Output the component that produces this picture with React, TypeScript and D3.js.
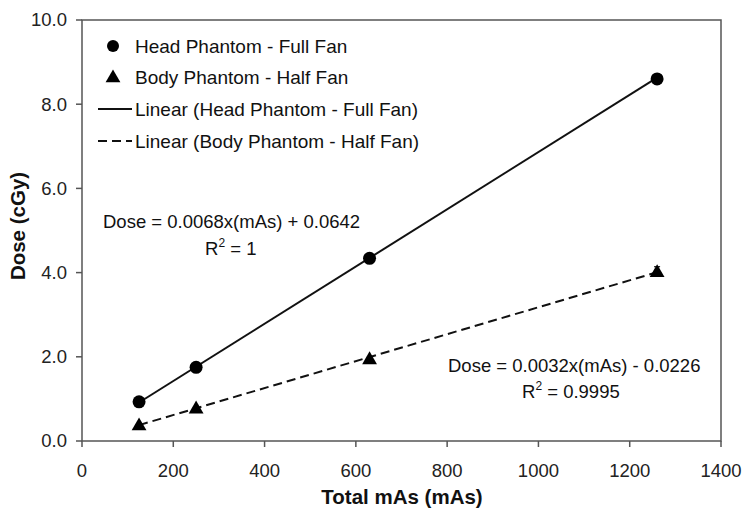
import React from 'react';
import * as d3 from 'd3';

// data
const mAs = [125, 250, 630, 1260];
const headDose = [0.93, 1.75, 4.34, 8.6];
const bodyDose = [0.38, 0.78, 1.95, 4.02];
const bodyErr = [0, 0, 0, 0.12];

// trendline coefficients [slope, intercept] as printed on the chart
const headFit = [0.0068, 0.0642];
const bodyFit = [0.0032, -0.0226];

const xTicks = [0, 200, 400, 600, 800, 1000, 1200, 1400];
const yTicks = [0, 2, 4, 6, 8, 10];

const legendItems = [
  'Head Phantom - Full Fan',
  'Body Phantom - Half Fan',
  'Linear (Head Phantom - Full Fan)',
  'Linear (Body Phantom - Half Fan)'
];

const W = 742, H = 510;
const M = { t: 20, r: 21, b: 69, l: 82 };
const FONT = 'Arial, "Liberation Sans", Helvetica, sans-serif';
const AXIS = '#555';

export default function App() {
  const x = d3.scaleLinear().domain([0, 1400]).range([M.l, W - M.r]);
  const y = d3.scaleLinear().domain([0, 10]).range([H - M.b, M.t]);

  const fitLine = (fit: number[]) => {
    const ext = d3.extent(mAs) as [number, number];
    return d3.line<number>()
      .x(d => x(d))
      .y(d => y(fit[0] * d + fit[1]))(ext) as string;
  };

  const tri = d3.symbol().type(d3.symbolTriangle).size(95)() as string;
  const legendY = [46, 77, 109, 141];

  return (
    <svg width={W} height={H} style={{ position: 'absolute', left: 0, top: 0, background: '#fff' }}
      fontFamily={FONT}>
      {/* frame */}
      <rect x={M.l} y={M.t} width={W - M.r - M.l} height={H - M.b - M.t}
        fill="none" stroke={AXIS} strokeWidth={1.5} />

      {/* y axis ticks */}
      {yTicks.map(t => (
        <g key={'y' + t}>
          <line x1={M.l - 6} x2={M.l} y1={y(t)} y2={y(t)} stroke={AXIS} strokeWidth={1.5} />
          <text x={M.l - 15} y={y(t)} dy="0.35em" textAnchor="end" fontSize={18.5} fill="#222">
            {t.toFixed(1)}
          </text>
        </g>
      ))}

      {/* x axis ticks */}
      {xTicks.map(t => (
        <g key={'x' + t}>
          <line x1={x(t)} x2={x(t)} y1={H - M.b} y2={H - M.b + 6} stroke={AXIS} strokeWidth={1.5} />
          <text x={x(t)} y={477} textAnchor="middle" fontSize={18.5} fill="#222">{t}</text>
        </g>
      ))}

      {/* axis titles */}
      <text x={402} y={504} textAnchor="middle" fontSize={20.5} fontWeight="bold" fill="#111">
        Total mAs (mAs)
      </text>
      <text transform={`translate(25,${226}) rotate(-90)`} textAnchor="middle" fontSize={20.5}
        fontWeight="bold" fill="#111">
        Dose (cGy)
      </text>

      {/* trendlines */}
      <path d={fitLine(headFit)} fill="none" stroke="#111" strokeWidth={2} />
      <path d={fitLine(bodyFit)} fill="none" stroke="#111" strokeWidth={2} strokeDasharray="9,5" />

      {/* body error bars */}
      {mAs.map((v, i) => bodyErr[i] > 0 && (
        <g key={'e' + i} stroke="#111" strokeWidth={1.2}>
          <line x1={x(v)} x2={x(v)} y1={y(bodyDose[i])} y2={y(bodyDose[i] + bodyErr[i])} />
          <line x1={x(v) - 3} x2={x(v) + 3} y1={y(bodyDose[i] + bodyErr[i])} y2={y(bodyDose[i] + bodyErr[i])} />
        </g>
      ))}

      {/* markers */}
      {mAs.map((v, i) => (
        <circle key={'h' + i} cx={x(v)} cy={y(headDose[i])} r={6.5} fill="#000" />
      ))}
      {mAs.map((v, i) => (
        <path key={'b' + i} d={tri} transform={`translate(${x(v)},${y(bodyDose[i]) + 1})`} fill="#000" />
      ))}

      {/* legend */}
      <circle cx={113} cy={legendY[0]} r={6} fill="#000" />
      <path d={tri} transform={`translate(113,${legendY[1] + 1})`} fill="#000" />
      <line x1={98} x2={132} y1={legendY[2]} y2={legendY[2]} stroke="#111" strokeWidth={2} />
      <line x1={98} x2={132} y1={legendY[3]} y2={legendY[3]} stroke="#111" strokeWidth={2}
        strokeDasharray="9,5" />
      {legendItems.map((s, i) => (
        <text key={s} x={135} y={legendY[i]} dy="0.35em" fontSize={19} fill="#111">{s}</text>
      ))}

      {/* equations */}
      <text x={103} y={228} fontSize={18.5} fill="#111">Dose = 0.0068x(mAs) + 0.0642</text>
      <text x={205} y={255} fontSize={18.5} fill="#111">
        R<tspan dy={-8} fontSize={12}>2</tspan><tspan dy={8}> = 1</tspan>
      </text>
      <text x={448} y={372} fontSize={18.5} fill="#111">Dose = 0.0032x(mAs) - 0.0226</text>
      <text x={522} y={398} fontSize={18.5} fill="#111">
        R<tspan dy={-8} fontSize={12}>2</tspan><tspan dy={8}> = 0.9995</tspan>
      </text>
    </svg>
  );
}
